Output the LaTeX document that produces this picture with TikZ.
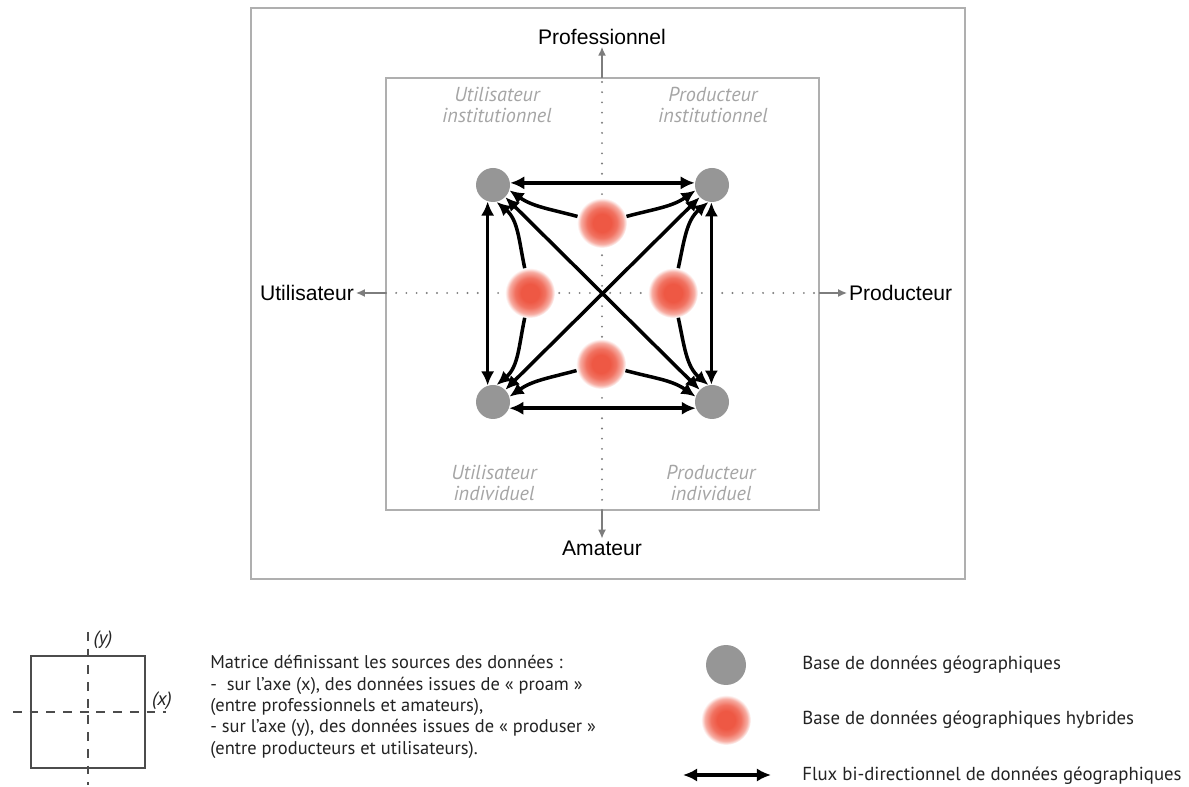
\documentclass[tikz,border=0pt]{standalone}
\usepackage{fontspec}
\setmainfont{PT Sans}
\newfontfamily\arialfont{Liberation Sans}
\usetikzlibrary{
    arrows.meta,
    positioning
}
\definecolor{DbGray}{RGB}{150,150,150}
\definecolor{HybRed}{RGB}{238,88,68}
\definecolor{BoxGray}{RGB}{175,175,175}
\definecolor{AxisGray}{RGB}{125,125,125}
\definecolor{LabelGray}{RGB}{165,165,165}
\definecolor{TextDark}{RGB}{35,35,35}
\pgfdeclareradialshading{hybblob}{\pgfpoint{0bp}{0bp}}{%
  color(0bp)=(HybRed); color(9bp)=(HybRed); color(15bp)=(HybRed!85!white);
  color(21bp)=(HybRed!50!white); color(24bp)=(HybRed!12!white);
  color(25bp)=(white); color(50bp)=(white)}
\tikzset{
  gdb/.style     = {circle, fill=DbGray, minimum size=0.68cm, inner sep=0pt},
  hdb/.style     = {circle, shade, shading=hybblob, minimum size=1.0cm,
                    inner sep=0pt},
  flux/.style    = {<->, >={Latex[length=8pt,width=7.5pt]}, line width=2pt},
  fluxone/.style = {->, >={Latex[length=8pt,width=7.5pt]}, line width=2pt},
  axe/.style     = {-{Latex[length=5pt,width=4.5pt]}, AxisGray, line width=0.8pt},
  axedot/.style  = {AxisGray, line width=1.2pt, line cap=round,
                    dash pattern=on 0pt off 5.8pt},
  quad/.style    = {font=\itshape\fontsize{11.5}{11.5}\selectfont,
                    text=LabelGray, align=center},
  axelbl/.style  = {font=\arialfont\fontsize{12}{14}\selectfont, text=black,
                    inner sep=1pt},
  leg/.style     = {font=\fontsize{10.5}{12.2}\selectfont, text=TextDark,
                    align=left, inner sep=0pt}
}

\begin{document}
\begin{tikzpicture}[x=0.02cm, y=0.02cm]
\useasboundingbox (0,0) rectangle (1189,787);
% frames
\draw[BoxGray, line width=0.8pt] (251,208) rectangle (965,779);
\draw[BoxGray, line width=0.8pt] (386,277) rectangle (819,709);

% axes
\coordinate (ytop) at (602,709);
\coordinate (ybot) at (602,277);
\coordinate (xlft) at (386,494);
\coordinate (xrgt) at (819,494);
\draw[axedot] (ybot) -- (ytop);
\draw[axedot] (xlft) -- (xrgt);
\node[axelbl] (pro) at (602,750) {Professionnel};
\node[axelbl] (ama) at (602,239) {Amateur};
\node[axelbl, anchor=east] (uti) at (356,494) {Utilisateur};
\node[axelbl, anchor=west] (prod) at (847,494) {Producteur};
\draw[axe] (ytop) -- (pro);
\draw[axe] (ybot) -- (ama);
\draw[axe] (xlft) -- (uti);
\draw[axe] (xrgt) -- (prod);

% quadrants
\node[quad] (ui) at (497,682) {Utilisateur\\institutionnel};
\node[quad] (pi) at (713,682) {Producteur\\institutionnel};
\node[quad] (uind) at (494,304) {Utilisateur\\individuel};
\node[quad] (pind) at (711,304) {Producteur\\individuel};

% databases
\node[gdb] (tl) at (493,602) {};
\node[gdb] (tr) at (712,602) {};
\node[gdb] (bl) at (493,385) {};
\node[gdb] (br) at (712,385) {};
\node[hdb] (ht) at (602,564) {};
\node[hdb] (hl) at (530,494) {};
\node[hdb] (hr) at (673,494) {};
\node[hdb] (hb) at (601,423) {};

% flows
\draw[flux] (tl.7) -- (tr.173);
\draw[flux] (bl.-21) -- (br.201);
\draw[flux] (tl.-108) -- (bl.108);
\draw[flux] (tr.-92) -- (br.92);
\draw[flux] (tl) -- (br);
\draw[flux] (tr) -- (bl);
\draw[fluxone] (ht) to[out=165, in=-35] (tl.-18);
\draw[fluxone] (ht) to[out=15, in=215] (tr.198);
\draw[fluxone] (hb) to[out=195, in=35] (bl.18);
\draw[fluxone] (hb) to[out=-15, in=145] (br.162);
\draw[fluxone] (hl) to[out=102, in=-40] (tl.-78);
\draw[fluxone] (hl) to[out=258, in=40] (bl.78);
\draw[fluxone] (hr) to[out=78, in=220] (tr.258);
\draw[fluxone] (hr) to[out=-78, in=140] (br.102);

% legend: matrix
\draw[black!70, line width=0.8pt] (31,19) rectangle (145,131);
\coordinate (my1) at (88,2);
\coordinate (my2) at (88,155);
\coordinate (mx1) at (13,75);
\coordinate (mx2) at (166,75);
\draw[black!70, line width=0.8pt, dash pattern=on 5pt off 4.5pt] (my2) -- (my1);
\draw[black!70, line width=0.8pt, dash pattern=on 5pt off 4.5pt] (mx1) -- (mx2);
\node[leg, font=\itshape\fontsize{11}{12}\selectfont] (ylbl) at (103,147) {(y)};
\node[leg, font=\itshape\fontsize{11}{12}\selectfont] (xlbl) at (162,86) {(x)};
\node[leg, anchor=north west] (mat) at (210,132)
  {Matrice définissant les sources des données :\\
   -\ \ sur l’axe (x), des données issues de « proam »\\
   (entre professionnels et amateurs),\\
   - sur l’axe (y), des données issues de « produser »\\
   (entre producteurs et utilisateurs).};

% legend: symbols
\node[gdb, minimum size=0.8cm] (lg) at (726,122) {};
\node[hdb, minimum size=1.0cm] (lh) at (726,67) {};
\coordinate (la1) at (683,12);
\coordinate (la2) at (771,12);
\draw[flux] (la1) -- (la2);
\node[leg, anchor=base west, font=\fontsize{10.7}{12}\selectfont] (lgt) at (802,117) {Base de données géographiques};
\node[leg, anchor=base west, font=\fontsize{10.7}{12}\selectfont] (lht) at (802,62) {Base de données géographiques hybrides};
\node[leg, anchor=base west, font=\fontsize{10.7}{12}\selectfont] (lat) at (802,7) {Flux bi-directionnel de données géographiques};
\end{tikzpicture}
\end{document}
